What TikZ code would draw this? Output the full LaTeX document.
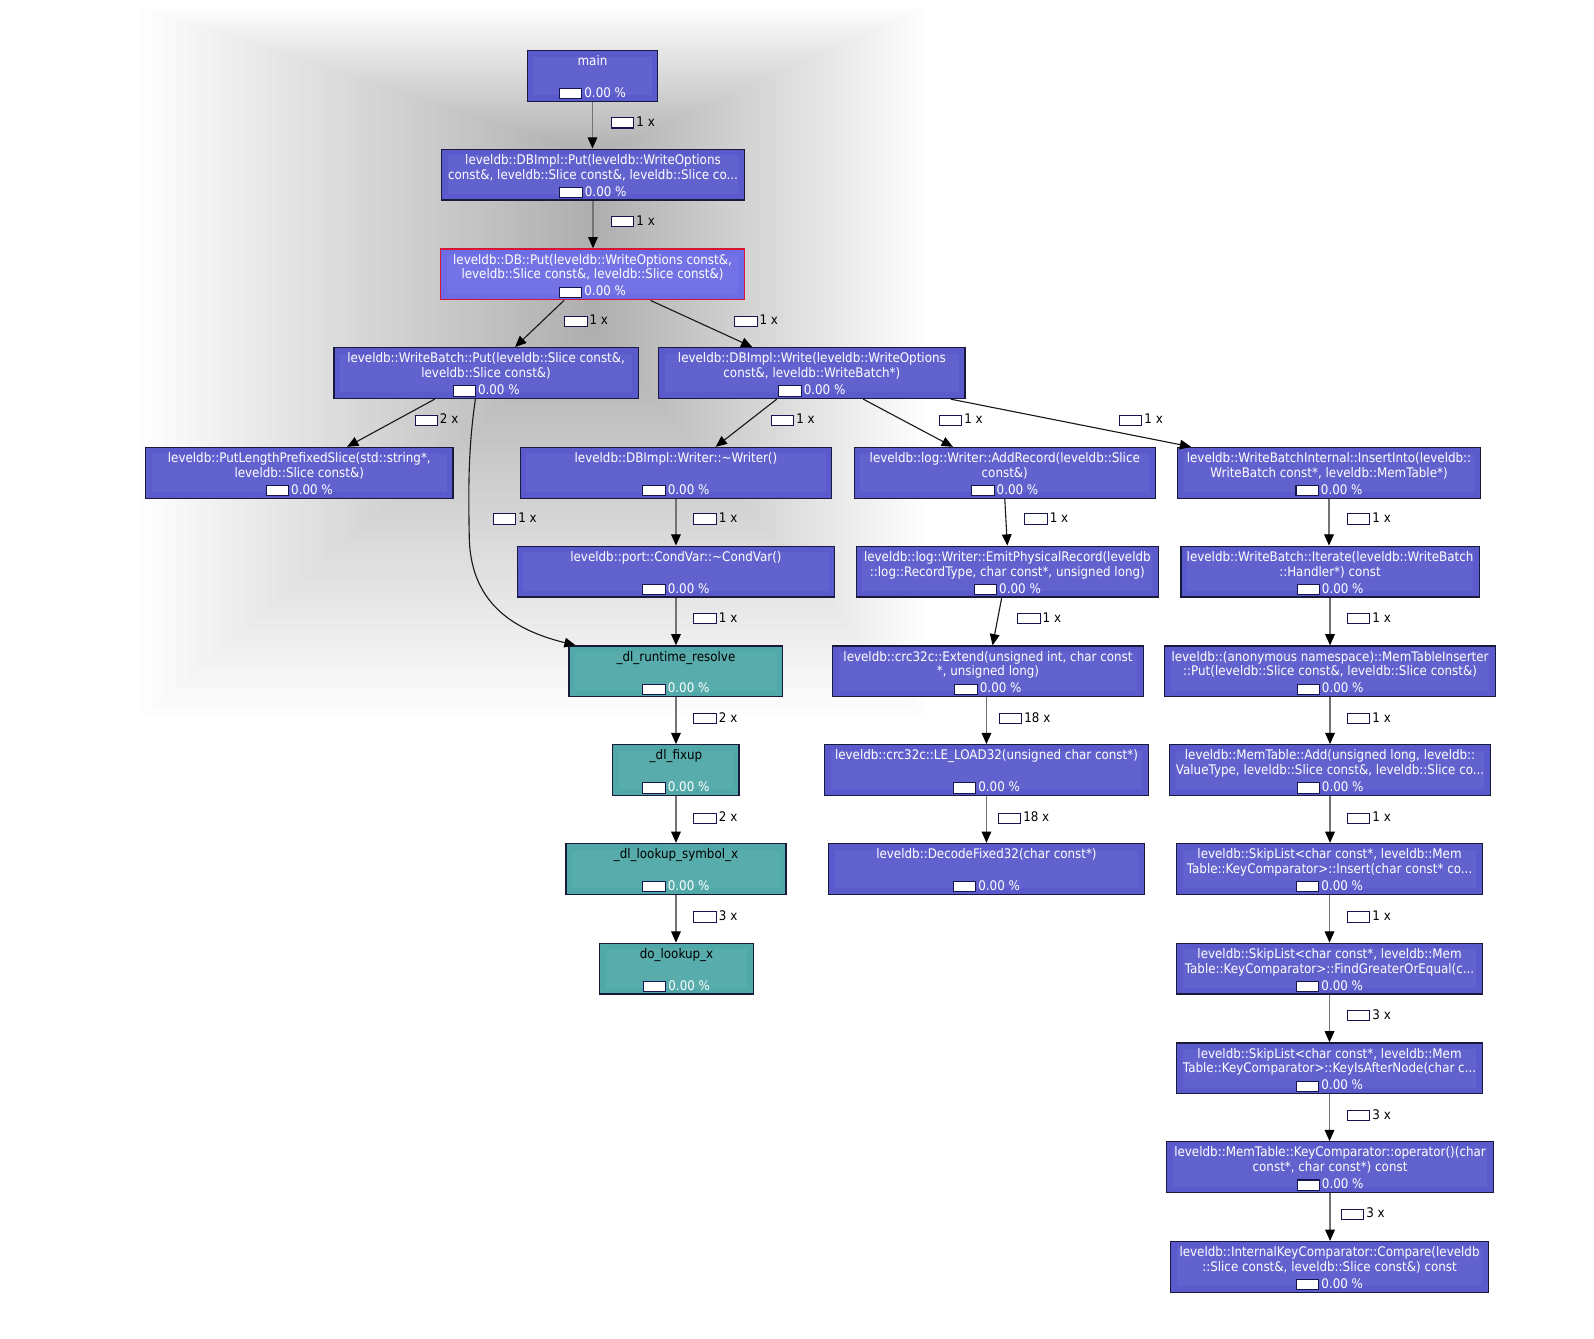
\documentclass[tikz,border=0pt]{standalone}
\usepackage{fontspec}
\setmainfont{DejaVu Sans}[FakeStretch=0.9]
\usetikzlibrary{arrows.meta}
\definecolor{nodeblue}{RGB}{90,90,205}
\definecolor{selblue}{RGB}{108,108,228}
\definecolor{nodeteal}{RGB}{80,168,168}
\definecolor{nodeline}{RGB}{25,25,60}
\definecolor{selline}{RGB}{215,20,50}
\definecolor{barline}{RGB}{20,20,80}
\newcommand\pbar{{\setlength\fboxsep{0pt}\setlength\fboxrule{1pt}\raisebox{-1pt}{\fcolorbox{barline}{white}{\rule{0pt}{9pt}\hspace{21pt}}}}}
\newcommand\pct{\pbar\hspace{2pt}0.00 \%}
\newcommand\fnode[7]{\node[#1, minimum width={#5-#3}, minimum height={#6-#4}] (#2) at ({(#3+#5)/2},{(#4+#6)/2}) {\rule{0pt}{13pt}#7};}
\newcommand\elab[4]{\node[elabel] (#1) at (#2,#3) {\pbar\hspace{2pt}#4};}
\newcommand\blk[1]{\textcolor{black}{#1}}
\begin{document}
\begin{tikzpicture}[x=1pt,y=-1pt,
  fbox/.style={draw=nodeline, line width=1.2pt, fill=nodeblue, text=white, inner sep=0pt,
    align=center, font=\fontsize{13}{14.6}\selectfont,
    path picture={\fill[white, fill opacity=0.05] ([shift={(6,6)}]path picture bounding box.north west) rectangle ([shift={(-6,-6)}]path picture bounding box.south east);}},
  selbox/.style={fbox, draw=selline, fill=selblue},
  tealbox/.style={fbox, fill=nodeteal},
  elabel/.style={anchor=west, inner sep=0pt, font=\fontsize{13}{14.6}\selectfont, text=black},
  edge/.style={draw=black!90, line width=1.1pt, -{Triangle[length=11pt,width=9.5pt,color=black]}},
  vedge/.style={edge, draw=black!55},
]
\useasboundingbox (1,0.5) rectangle (1566.8,1315.8);
\fill[white] (1,0.5) rectangle (1566.8,1315.8);
% soft shadow behind the upper part of the graph
\foreach \i in {0,...,39}{
  \pgfmathsetmacro\t{\i/39}
  \pgfmathsetmacro\L{140+435*\t}
  \pgfmathsetmacro\T{8+142*\t}
  \pgfmathsetmacro\R{910-319*\t}
  \pgfmathsetmacro\B{705-375*\t}
  \fill[black, fill opacity=0.0088] (\L,\T) rectangle (\R,\B);
}
% nodes
\fnode{fbox}{main}{519}{50}{647}{100}{main\\\mbox{}\\[2pt]\pct}
\fnode{fbox}{dbimplput}{435}{147}{732}{197}{leveldb::DBImpl::Put(leveldb::WriteOptions\\const\&, leveldb::Slice const\&, leveldb::Slice co...\\[2pt]\pct}
\fnode{selbox}{dbput}{434}{245}{732}{295}{leveldb::DB::Put(leveldb::WriteOptions const\&,\\leveldb::Slice const\&, leveldb::Slice const\&)\\[2pt]\pct}
\fnode{fbox}{wbput}{329}{342}{628}{392}{leveldb::WriteBatch::Put(leveldb::Slice const\&,\\leveldb::Slice const\&)\\[2pt]\pct}
\fnode{fbox}{dbwrite}{648}{342}{949}{392}{leveldb::DBImpl::Write(leveldb::WriteOptions\\const\&, leveldb::WriteBatch*)\\[2pt]\pct}
\fnode{fbox}{plps}{144}{440}{446}{490}{leveldb::PutLengthPrefixedSlice(std::string*,\\leveldb::Slice const\&)\\[2pt]\pct}
\fnode{fbox}{writer}{512}{440}{818}{490}{leveldb::DBImpl::Writer::\textasciitilde Writer()\\\mbox{}\\[2pt]\pct}
\fnode{fbox}{addrec}{840}{440}{1136}{490}{leveldb::log::Writer::AddRecord(leveldb::Slice\\const\&)\\[2pt]\pct}
\fnode{fbox}{insinto}{1158}{440}{1455}{490}{leveldb::WriteBatchInternal::InsertInto(leveldb::\\WriteBatch const*, leveldb::MemTable*)\\[2pt]\pct}
\fnode{fbox}{condvar}{509}{537}{821}{587}{leveldb::port::CondVar::\textasciitilde CondVar()\\\mbox{}\\[2pt]\pct}
\fnode{fbox}{emit}{842}{537}{1139}{587}{leveldb::log::Writer::EmitPhysicalRecord(leveldb\\::log::RecordType, char const*, unsigned long)\\[2pt]\pct}
\fnode{fbox}{iterate}{1161}{537}{1454}{587}{leveldb::WriteBatch::Iterate(leveldb::WriteBatch\\::Handler*) const\\[2pt]\pct}
\fnode{tealbox}{dlrr}{560}{635}{770}{685}{\blk{\_dl\_runtime\_resolve}\\\mbox{}\\[2pt]\pct}
\fnode{fbox}{extend}{819}{635}{1124}{685}{leveldb::crc32c::Extend(unsigned int, char const\\*, unsigned long)\\[2pt]\pct}
\fnode{fbox}{mti}{1145}{635}{1470}{685}{leveldb::(anonymous namespace)::MemTableInserter\\::Put(leveldb::Slice const\&, leveldb::Slice const\&)\\[2pt]\pct}
\fnode{tealbox}{fixup}{603}{732}{727}{782}{\blk{\_dl\_fixup}\\\mbox{}\\[2pt]\pct}
\fnode{fbox}{le}{811}{732}{1129}{782}{leveldb::crc32c::LE\_LOAD32(unsigned char const*)\\\mbox{}\\[2pt]\pct}
\fnode{fbox}{add}{1150}{732}{1465}{782}{leveldb::MemTable::Add(unsigned long, leveldb::\\ValueType, leveldb::Slice const\&, leveldb::Slice co...\\[2pt]\pct}
\fnode{tealbox}{lookup}{557}{829}{773}{879}{\blk{\_dl\_lookup\_symbol\_x}\\\mbox{}\\[2pt]\pct}
\fnode{fbox}{decode}{815}{829}{1125}{879}{leveldb::DecodeFixed32(char const*)\\\mbox{}\\[2pt]\pct}
\fnode{fbox}{insert}{1157}{829}{1457}{879}{leveldb::SkipList<char const*, leveldb::Mem\\Table::KeyComparator>::Insert(char const* co...\\[2pt]\pct}
\fnode{tealbox}{dolookup}{590}{927}{741}{977}{\blk{do\_lookup\_x}\\\mbox{}\\[2pt]\pct}
\fnode{fbox}{findge}{1157}{927}{1457}{977}{leveldb::SkipList<char const*, leveldb::Mem\\Table::KeyComparator>::FindGreaterOrEqual(c...\\[2pt]\pct}
\fnode{fbox}{keyis}{1157}{1025}{1457}{1075}{leveldb::SkipList<char const*, leveldb::Mem\\Table::KeyComparator>::KeyIsAfterNode(char c...\\[2pt]\pct}
\fnode{fbox}{op}{1147}{1122}{1468}{1172}{leveldb::MemTable::KeyComparator::operator()(char\\const*, char const*) const\\[2pt]\pct}
\fnode{fbox}{compare}{1151}{1220}{1463}{1270}{leveldb::InternalKeyComparator::Compare(leveldb\\::Slice const\&, leveldb::Slice const\&) const\\[2pt]\pct}
% connectors
\draw[vedge] (main.south) -- (main.south |- dbimplput.north);
\draw[vedge] (dbimplput.south) -- (dbimplput.south |- dbput.north);
\draw[edge] ([xshift=-28]dbput.south) -- ([xshift=28.5]wbput.north);
\draw[edge] ([xshift=57]dbput.south) -- ([xshift=-58.5]dbwrite.north);
\draw[edge] ([xshift=-50.5]wbput.south) -- ([xshift=47]plps.north);
\draw[edge] ([xshift=-10.5]wbput.south) .. controls (461,440) and (461,480) .. (462,530) .. controls (464,595) and (508,620) .. ([xshift=7]dlrr.north west);
\draw[edge] ([xshift=-34.5]dbwrite.south) -- ([xshift=39]writer.north);
\draw[edge] ([xshift=50.5]dbwrite.south) -- ([xshift=-51]addrec.north);
\draw[edge] ([xshift=136.5]dbwrite.south) -- ([xshift=-135.5]insinto.north);
\draw[vedge] (writer.south) -- (writer.south |- condvar.north);
\draw[vedge] (condvar.south) -- (condvar.south |- dlrr.north);
\draw[vedge] (dlrr.south) -- (dlrr.south |- fixup.north);
\draw[vedge] (fixup.south) -- (fixup.south |- lookup.north);
\draw[vedge] (lookup.south) -- (lookup.south |- dolookup.north);
\draw[edge] (addrec.south) -- (emit.north);
\draw[edge] ([xshift=-5.5]emit.south) -- ([xshift=4.5]extend.north);
\draw[vedge] ([xshift=-1.5]extend.south) -- ([xshift=-1.5]extend.south |- le.north);
\draw[vedge] (le.south) -- (le.south |- decode.north);
\draw[vedge] (insinto.south) -- (insinto.south |- iterate.north);
\draw[vedge] (iterate.south) -- (iterate.south |- mti.north);
\draw[vedge] (mti.south) -- (mti.south |- add.north);
\draw[vedge] (add.south) -- (add.south |- insert.north);
\draw[vedge] (insert.south) -- (insert.south |- findge.north);
\draw[vedge] (findge.south) -- (findge.south |- keyis.north);
\draw[vedge] (keyis.south) -- (keyis.south |- op.north);
\draw[vedge] (op.south) -- (op.south |- compare.north);
% connector labels
\elab{l1}{601}{121}{1 x}
\elab{l2}{601}{218}{1 x}
\elab{l3}{555}{316}{1 x}
\elab{l4}{722}{316}{1 x}
\elab{l5}{408}{413}{2 x}
\elab{l6}{485}{510}{1 x}
\elab{l7}{758}{413}{1 x}
\elab{l8}{923}{413}{1 x}
\elab{l9}{1100}{413}{1 x}
\elab{l10}{682}{510}{1 x}
\elab{l11}{682}{608}{1 x}
\elab{l12}{1007}{510}{1 x}
\elab{l13}{1000}{608}{1 x}
\elab{l14}{982}{706}{18 x}
\elab{l15}{981}{804}{18 x}
\elab{l16}{1324}{510}{1 x}
\elab{l17}{1324}{608}{1 x}
\elab{l18}{1324}{706}{1 x}
\elab{l19}{1324}{804}{1 x}
\elab{l20}{1324}{901}{1 x}
\elab{l21}{1324}{998}{3 x}
\elab{l22}{1324}{1096}{3 x}
\elab{l23}{1318}{1193}{3 x}
\elab{l24}{682}{706}{2 x}
\elab{l25}{682}{804}{2 x}
\elab{l26}{682}{901}{3 x}
\end{tikzpicture}
\end{document}
